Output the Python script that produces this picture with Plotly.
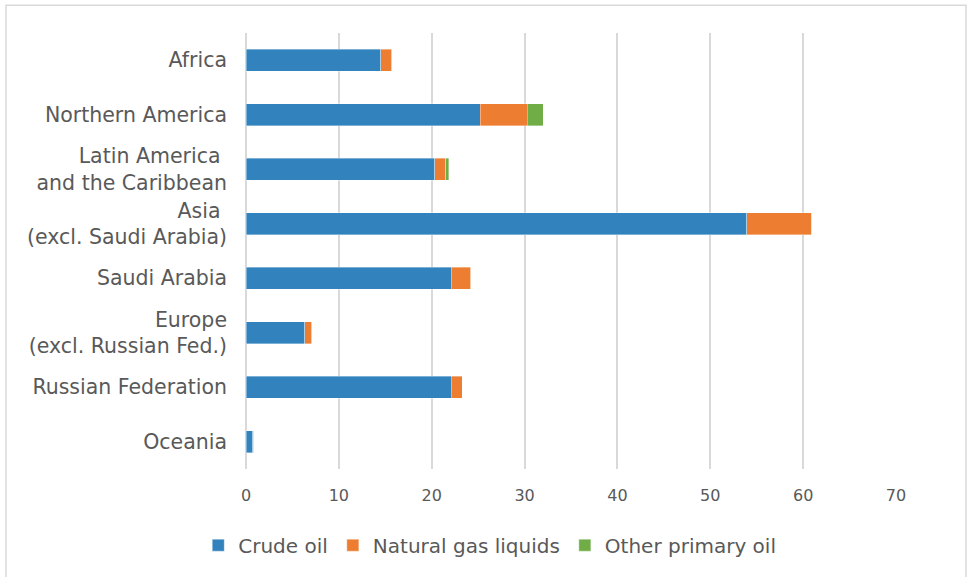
import plotly.graph_objects as go

# Regions, top to bottom
regions = [
    "Africa",
    "Northern America",
    "Latin America&nbsp;<br>and the Caribbean",
    "Asia&nbsp;<br>(excl. Saudi Arabia)",
    "Saudi Arabia",
    "Europe<br>(excl. Russian Fed.)",
    "Russian Federation",
    "Oceania",
]

# Production by oil type
crude_oil = [14.5, 25.2, 20.3, 53.95, 22.1, 6.35, 22.1, 0.75]
natural_gas_liquids = [1.2, 5.1, 1.2, 6.95, 2.1, 0.75, 1.2, 0.1]
other_primary_oil = [0.05, 1.7, 0.35, 0.05, 0.05, 0.05, 0.0, 0.0]

x_ticks = [0, 10, 20, 30, 40, 50, 60, 70]

FONT = "Century Gothic, DejaVu Sans, sans-serif"
TEXT = "#595959"

fig = go.Figure()
series = [
    ("Crude oil", crude_oil, "#3182BD"),
    ("Natural gas liquids", natural_gas_liquids, "#ED7D31"),
    ("Other primary oil", other_primary_oil, "#70AD47"),
]
for name, vals, color in series:
    fig.add_trace(go.Bar(
        y=regions, x=vals, name=name, orientation="h",
        marker=dict(color=color, line=dict(color="rgba(255,255,255,0.6)", width=0.6)),
    ))

fig.update_layout(
    barmode="stack",
    bargap=0.6,
    width=969, height=577,
    margin=dict(l=246, r=73, t=33, b=105),
    paper_bgcolor="white",
    plot_bgcolor="white",
    font=dict(family=FONT, color=TEXT, size=20),
    showlegend=True,
    legend=dict(
        orientation="h", x=0.375, xanchor="center", y=-0.13, yanchor="top",
        font=dict(family=FONT, size=20, color=TEXT),
        itemwidth=30, traceorder="normal",
    ),
    xaxis=dict(
        range=[0, 70], tickvals=x_ticks, showgrid=True,
        gridcolor="#D9D9D9", gridwidth=1.5, zeroline=True,
        zerolinecolor="#D9D9D9", zerolinewidth=1.5,
        tickfont=dict(size=16, color=TEXT, family=FONT),
        showline=False, ticks="", ticklabelstandoff=15,
    ),
    yaxis=dict(
        autorange="reversed", showgrid=False, showline=False, ticks="",
        tickfont=dict(size=20.5, color=TEXT, family=FONT),
        ticklabelstandoff=18,
    ),
    shapes=[dict(
        type="rect", xref="paper", yref="paper",
        x0=(6 - 246) / 650, x1=(966 - 246) / 650,
        y0=(472 - 600) / 439, y1=(472 - 5) / 439,
        line=dict(color="#D9D9D9", width=1.5), fillcolor="rgba(0,0,0,0)",
        layer="below",
    )],
)

fig.write_html("out.html")
